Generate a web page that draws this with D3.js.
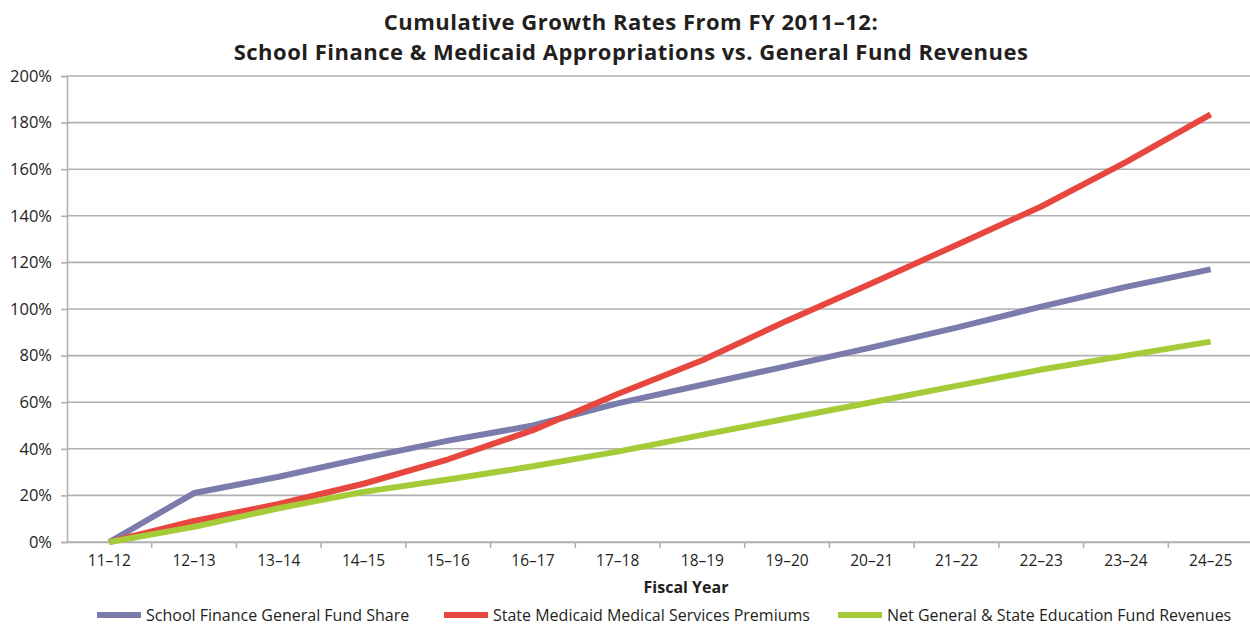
<!DOCTYPE html>
<html>
<head>
<meta charset="utf-8">
<script src="https://cdn.jsdelivr.net/npm/d3@7"></script>
<style>
  html, body { margin: 0; padding: 0; background: #ffffff; }
  svg { display: block; }
  text { font-family: "Open Sans", "Noto Sans", sans-serif; fill: #231f20; }
</style>
</head>
<body>
<svg id="chart" width="1250" height="625"></svg>
<script>
const categories = ["11–12","12–13","13–14","14–15","15–16","16–17","17–18","18–19","19–20","20–21","21–22","22–23","23–24","24–25"];
const schoolFinance = [0, 21, 28, 36, 43.5, 50, 59.5, 67.5, 75.5, 83.5, 92, 101, 109.5, 117];
const medicaid      = [0, 9, 16.3, 25, 35.5, 48, 63.5, 78, 95, 111, 127.5, 144, 163, 183.5];
const netRevenues   = [0, 6.5, 14.5, 21.5, 26.8, 32.5, 38.8, 46, 53, 60, 67, 74, 80, 86];
const yTicks = [0, 20, 40, 60, 80, 100, 120, 140, 160, 180, 200];
const seriesNames = ["School Finance General Fund Share", "State Medicaid Medical Services Premiums", "Net General & State Education Fund Revenues"];
const seriesColors = ["#7b7bac", "#e8473f", "#a5cb38"];
const titleLines = ["Cumulative Growth Rates From FY 2011–12:", "School Finance & Medicaid Appropriations vs. General Fund Revenues"];
const xTitle = "Fiscal Year";

const series = [schoolFinance, medicaid, netRevenues];

const svg = d3.select("#chart");
const margin = {left: 67, right: -3, top: 76, bottom: 83};
const W = 1250, H = 625;

const x = d3.scaleBand().domain(categories).range([margin.left, W - margin.right]);
const y = d3.scaleLinear().domain([0, 200]).range([H - margin.bottom, margin.top]);

// gridlines
svg.append("g")
  .selectAll("line").data(yTicks).join("line")
  .attr("x1", margin.left).attr("x2", W)
  .attr("y1", d => y(d)).attr("y2", d => y(d))
  .attr("stroke", "#b1b1b3").attr("stroke-width", 1.6);

// y axis
const yAxis = svg.append("g").attr("transform", `translate(${margin.left},0)`)
  .call(d3.axisLeft(y).tickValues(yTicks).tickFormat(d => d + "%").tickSize(6).tickPadding(9));
yAxis.select(".domain").attr("stroke", "#b1b1b3").attr("stroke-width", 1.6);
yAxis.selectAll(".tick line").attr("stroke", "#b1b1b3").attr("stroke-width", 1.6);
yAxis.selectAll(".tick text").attr("font-size", 16.5).attr("fill", "#231f20")
  .style("font-family", '"Open Sans", sans-serif');

// x axis
const xAxis = svg.append("g").attr("transform", `translate(0,${y(0)})`)
  .call(d3.axisBottom(x).tickSize(0).tickPadding(13));
xAxis.select(".domain").attr("stroke", "#b1b1b3").attr("stroke-width", 1.6);
xAxis.selectAll(".tick text").attr("font-size", 15.5).attr("fill", "#231f20")
  .style("font-family", '"Open Sans", sans-serif');
// tick marks at band boundaries
svg.append("g").selectAll("line")
  .data(categories)
  .join("line")
  .attr("x1", (d, i) => x(categories[0]) + x.step() * (i + 1))
  .attr("x2", (d, i) => x(categories[0]) + x.step() * (i + 1))
  .attr("y1", y(0)).attr("y2", y(0) + 6)
  .attr("stroke", "#b1b1b3").attr("stroke-width", 1.6);

// lines
const line = d3.line()
  .x((d, i) => x(categories[i]) + x.bandwidth() / 2)
  .y(d => y(d));
series.forEach((s, k) => {
  svg.append("path").datum(s)
    .attr("d", line)
    .attr("fill", "none")
    .attr("stroke", seriesColors[k])
    .attr("stroke-width", 6)
    .attr("stroke-linejoin", "round");
});

// title
svg.append("g").selectAll("text").data(titleLines).join("text")
  .attr("x", 631).attr("y", (d, i) => 29.5 + i * 30)
  .attr("text-anchor", "middle")
  .attr("font-size", 22).attr("font-weight", "bold")
  .attr("letter-spacing", 0.5)
  .text(d => d);

// x axis title
svg.append("text").attr("x", 686).attr("y", 593)
  .attr("text-anchor", "middle").attr("font-size", 16).attr("font-weight", "bold")
  .text(xTitle);

// legend
const legendX = [97, 444, 838];
const lg = svg.append("g").selectAll("g").data(seriesNames).join("g")
  .attr("transform", (d, i) => `translate(${legendX[i]},615)`);
lg.append("line").attr("x1", 0).attr("x2", 44).attr("y1", 0).attr("y2", 0)
  .attr("stroke", (d, i) => seriesColors[i]).attr("stroke-width", 6);
lg.append("text").attr("x", 49).attr("y", 5.5).attr("font-size", 16).text(d => d);
</script>
</body>
</html>
